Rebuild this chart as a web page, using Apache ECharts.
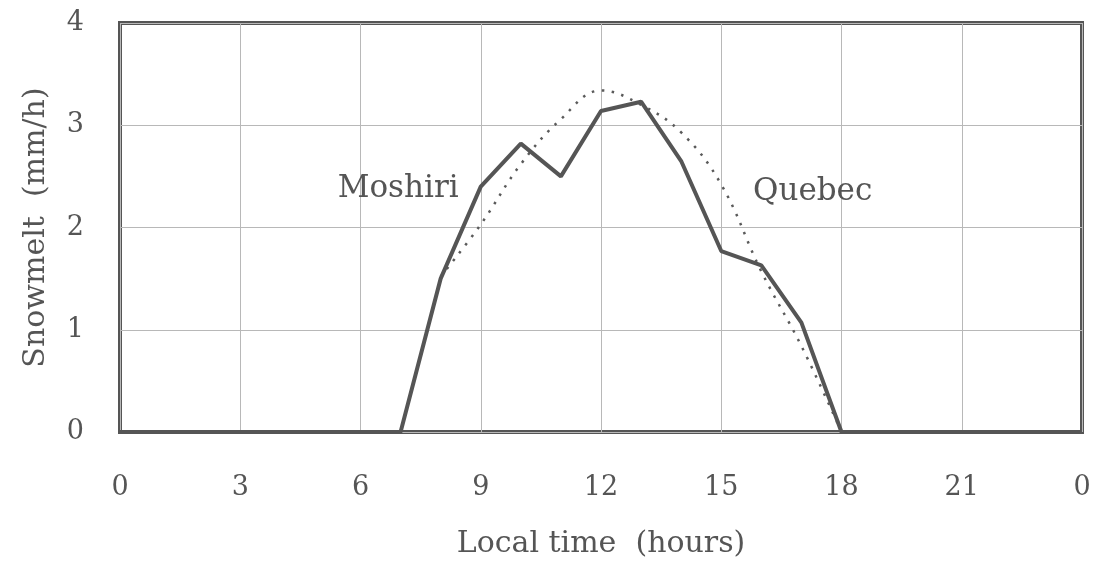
<!DOCTYPE html>
<html>
<head>
<meta charset="utf-8">
<script src="https://cdn.jsdelivr.net/npm/echarts@6/dist/echarts.min.js"></script>
<style>html,body{margin:0;padding:0;background:#fff}#c{width:1101px;height:565px}</style>
</head>
<body>
<div id="c"></div>
<script>
var xTicks = [0, 3, 6, 9, 12, 15, 18, 21, 24];
var xTickLabels = ['0', '3', '6', '9', '12', '15', '18', '21', '0'];
var yTickLabels = ['0', '1', '2', '3', '4'];

var moshiriHours = [0, 1, 2, 3, 4, 5, 6, 7, 8, 9, 10, 11, 12, 13, 14, 15, 16, 17, 18, 19, 20, 21, 22, 23, 24];
var moshiri = [0, 0, 0, 0, 0, 0, 0, 0, 1.5, 2.4, 2.82, 2.5, 3.14, 3.23, 2.65, 1.77, 1.63, 1.07, 0, 0, 0, 0, 0, 0, 0];

var quebecHours = [8, 9, 10, 11, 12, 13, 14, 15, 16, 17, 18];
var quebec = [1.52, 2.03, 2.62, 3.06, 3.34, 3.2, 2.93, 2.42, 1.57, 0.84, 0];

var labelNames = ['Moshiri', 'Quebec'];
var labelX = [6.94, 17.28];
var labelY = [2.38, 2.35];

var ink = '#555555';
var font = 'DejaVu Serif';

function pairs(xs, ys) { return xs.map(function (x, i) { return [x, ys[i]]; }); }

var chart = echarts.init(document.getElementById('c'), null, {renderer: 'canvas'});
chart.setOption({
  backgroundColor: '#ffffff',
  animation: false,
  grid: {left: 120, right: 19, top: 23, bottom: 133, show: true, borderColor: ink, borderWidth: 4, backgroundColor: 'transparent'},
  xAxis: {
    type: 'value', min: 0, max: 24, interval: 3,
    name: 'Local time  (hours)', nameLocation: 'middle', nameGap: 97,
    nameTextStyle: {fontFamily: font, fontSize: 30, color: ink},
    axisLine: {show: false}, axisTick: {show: false},
    splitLine: {show: true, lineStyle: {color: '#b8b8b8', width: 1}},
    axisLabel: {
      margin: 42, fontFamily: font, fontSize: 27, color: ink,
      formatter: function (v) { var i = xTicks.indexOf(v); return i >= 0 ? xTickLabels[i] : ''; }
    }
  },
  yAxis: {
    type: 'value', min: 0, max: 4, interval: 1,
    name: 'Snowmelt  (mm/h)', nameLocation: 'middle', nameGap: 69, nameRotate: 90,
    nameTextStyle: {fontFamily: font, fontSize: 30, color: ink},
    axisLine: {show: false}, axisTick: {show: false},
    splitLine: {show: true, lineStyle: {color: '#b8b8b8', width: 1}},
    axisLabel: {
      margin: 36, fontFamily: font, fontSize: 27, color: ink,
      formatter: function (v) { return yTickLabels[v] !== undefined ? yTickLabels[v] : ''; }
    }
  },
  series: [
    {
      name: 'Quebec', type: 'line', data: pairs(quebecHours, quebec),
      smooth: 0.4, showSymbol: false, symbol: 'none', clip: false,
      lineStyle: {color: '#5a5a5a', width: 2.5, type: [2.5, 7.5]}, z: 2
    },
    {
      name: 'Moshiri', type: 'line', data: pairs(moshiriHours, moshiri),
      showSymbol: false, symbol: 'none', clip: false,
      lineStyle: {color: ink, width: 4}, z: 3,
      markPoint: {
        symbol: 'circle', symbolSize: 0, silent: true,
        label: {show: true, position: 'inside', fontFamily: font, fontSize: 31, color: ink,
          formatter: function (p) { return p.name; }},
        data: labelNames.map(function (n, i) { return {name: n, coord: [labelX[i], labelY[i]]}; })
      }
    }
  ]
});
</script>
</body>
</html>
